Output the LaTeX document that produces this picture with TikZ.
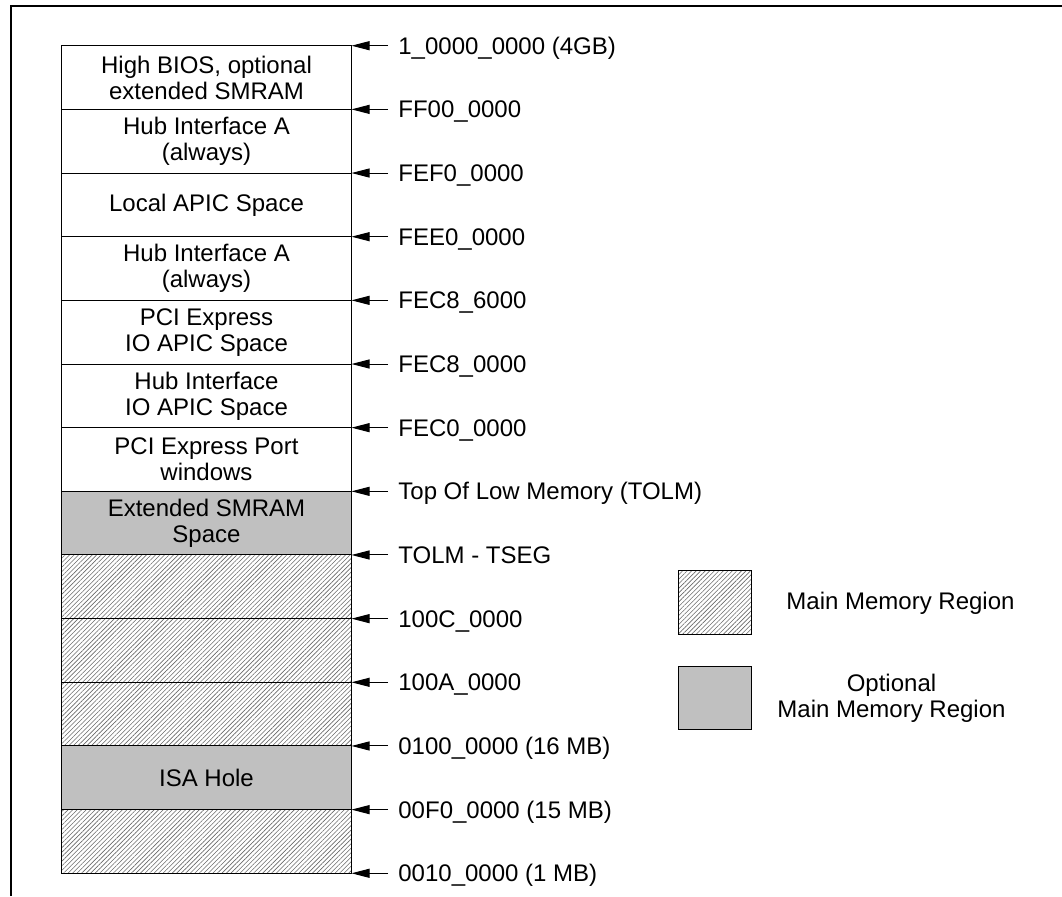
\documentclass[tikz,border=0pt]{standalone}
\usepackage{fontspec}
\setmainfont{Liberation Sans}
\usetikzlibrary{arrows.meta,patterns.meta}
\definecolor{optgray}{RGB}{192,192,192}
\definecolor{hatchgray}{RGB}{105,105,105}

\begin{document}
\begin{tikzpicture}[x=0.5pt, y=-0.5pt,
    every node/.style={font=\fontsize{12}{13}\selectfont},
    blk/.style={draw, line width=0.5pt, minimum width=145pt, minimum height=31.83pt, inner sep=0pt, align=center},
    free/.style={fill=white},
    opt/.style={fill=optgray},
    mainmem/.style={pattern={Lines[angle=45,distance=1.6pt,line width=0.3pt]}, pattern color=hatchgray},
    addr/.style={anchor=west, inner xsep=5pt, inner ysep=0pt, text height=8.6pt, text depth=0pt},
    addrarrow/.style={-{Triangle[length=9pt,width=4.5pt]}, line width=0.5pt},
    keybox/.style={draw, line width=0.6pt, minimum width=36.7pt, minimum height=31.8pt, inner sep=0pt}]
    \useasboundingbox (0,0) rectangle (1062,896);
    % Frame
    \draw[line width=1pt] (11,896) -- (11,6) -- (1062,6);
    % Memory map
    \foreach \txt/\kind [count=\k] in {
        {High BIOS, optional\\extended SMRAM}/free,
        {Hub Interface A\\(always)}/free,
        {Local APIC Space}/free,
        {Hub Interface A\\(always)}/free,
        {PCI Express\\IO APIC Space}/free,
        {Hub Interface\\IO APIC Space}/free,
        {PCI Express Port\\windows}/free,
        {Extended SMRAM\\Space}/opt,
        {}/mainmem,
        {}/mainmem,
        {}/mainmem,
        {ISA Hole}/opt,
        {}/mainmem} {
        \node[blk, \kind] (Block-\k) at (206.5, {45.7+63.66*(\k-0.5)}) {\txt};
    }
    % Addresses
    \foreach \addr [count=\k] in {
        1\_0000\_0000 (4GB), FF00\_0000, FEF0\_0000, FEE0\_0000,
        FEC8\_6000, FEC8\_0000, FEC0\_0000, Top Of Low Memory (TOLM),
        TOLM - TSEG, 100C\_0000, 100A\_0000, 0100\_0000 (16 MB),
        00F0\_0000 (15 MB), 0010\_0000 (1 MB)} {
        \coordinate (Edge-\k) at (351.5, {45.7+63.66*(\k-1)});
        \node[addr] (Addr-\k) at (388, {45.7+63.66*(\k-1)}) {\addr};
        \draw[addrarrow] (Addr-\k.west) -- (Edge-\k);
    }
    % Legend
    \node[keybox, mainmem] (Key-main) at (715,602.5) {};
    \node (Key-main-txt) at (900.5,603) {Main Memory Region};
    \node[keybox, opt] (Key-opt) at (715,698) {};
    \node[align=center] (Key-opt-txt) at (891.5,698) {Optional\\Main Memory Region};
\end{tikzpicture}
\end{document}
